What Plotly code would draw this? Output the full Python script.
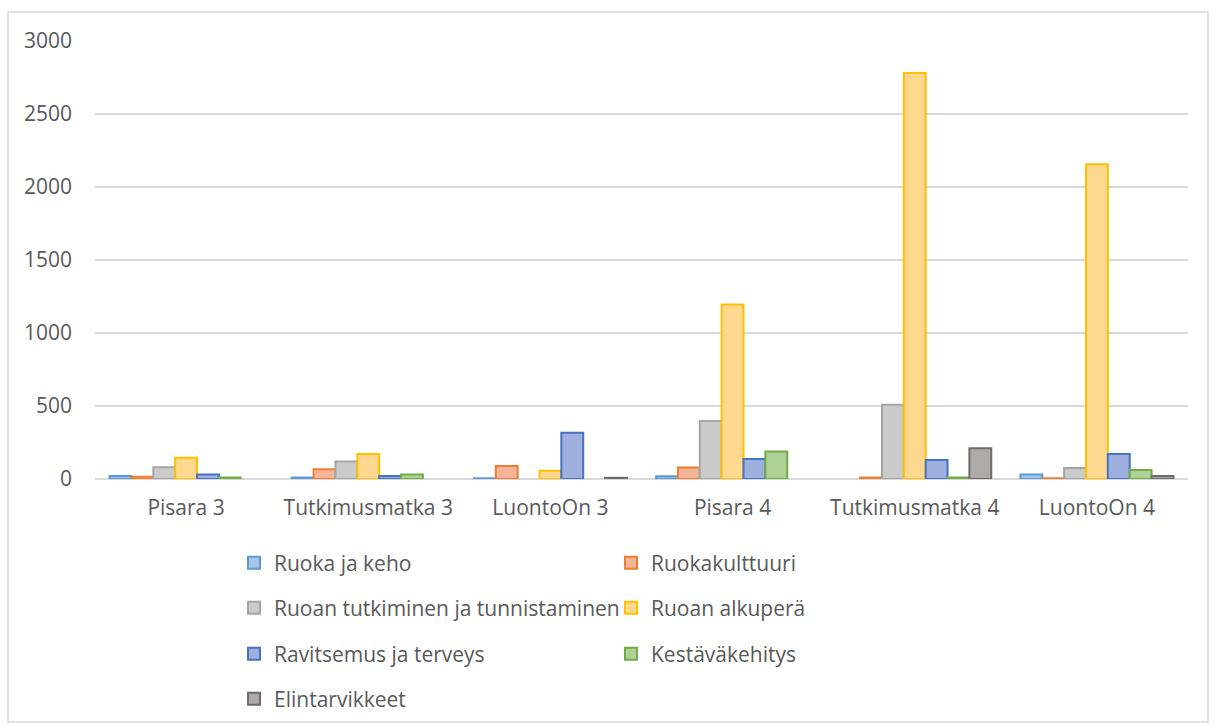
import plotly.graph_objects as go

categories = ["Pisara 3", "Tutkimusmatka 3", "LuontoOn 3", "Pisara 4", "Tutkimusmatka 4", "LuontoOn 4"]
series_names = ["Ruoka ja keho", "Ruokakulttuuri", "Ruoan tutkiminen ja tunnistaminen",
                "Ruoan alkuperä", "Ravitsemus ja terveys", "Kestäväkehitys", "Elintarvikkeet"]
ruoka_ja_keho = [20, 10, 5, 18, 0, 31]
ruokakulttuuri = [15, 66, 89, 79, 10, 5]
ruoan_tutkiminen = [80, 120, 0, 397, 509, 75]
ruoan_alkupera = [146, 171, 57, 1195, 2780, 2155]
ravitsemus = [30, 20, 317, 137, 130, 171]
kestavakehitys = [10, 31, 0, 189, 10, 62]
elintarvikkeet = [0, 0, 8, 0, 210, 20]
y_ticks = [0, 500, 1000, 1500, 2000, 2500, 3000]

values = [ruoka_ja_keho, ruokakulttuuri, ruoan_tutkiminen, ruoan_alkupera,
          ravitsemus, kestavakehitys, elintarvikkeet]
fills = ["#A4C6E8", "#F6B499", "#CBCBCB", "#FFD88F", "#A0B0DE", "#ADD196", "#AEAAA9"]
lines = ["#5B9BD5", "#ED7D31", "#A5A5A5", "#FFC000", "#4472C4", "#70AD47", "#6F6B6A"]

# legend rows (2 per row)
legend_ids = ["legend", "legend", "legend2", "legend2", "legend3", "legend3", "legend4"]

fig = go.Figure()
for name, vals, fc, lc, lg in zip(series_names, values, fills, lines, legend_ids):
    fig.add_trace(go.Bar(
        x=categories, y=[v if v != 0 else None for v in vals], name=name,
        marker=dict(color=fc, line=dict(color=lc, width=2)),
        legend=lg,
    ))

W, H = 1216, 727
L, R, T, B = 95, 1188, 41, 479
def px_x(x):
    return (x - L) / (R - L)
def px_y(y):
    return (B - y) / (B - T)

font_family = "'Open Sans', Lato, sans-serif"
fsize = 21
leg_common = dict(orientation="h", entrywidth=332, entrywidthmode="pixels",
                  font=dict(family=font_family, size=fsize, color="#595959"),
                  xanchor="left", yanchor="middle", bgcolor="rgba(0,0,0,0)",
                  itemclick=False, itemdoubleclick=False)
row_y = [563, 608, 654, 699]
lx = px_x(234)

fig.update_layout(
    width=W, height=H,
    margin=dict(l=L, r=W - R, t=T, b=H - B, autoexpand=False),
    paper_bgcolor="white", plot_bgcolor="white",
    barmode="group", bargap=0.16, bargroupgap=0.0,
    font=dict(family=font_family, size=fsize, color="#595959"),
    legend=dict(x=lx, y=px_y(row_y[0]), **leg_common),
    legend2=dict(x=lx, y=px_y(row_y[1]), **leg_common),
    legend3=dict(x=lx, y=px_y(row_y[2]), **leg_common),
    legend4=dict(x=lx, y=px_y(row_y[3]), **leg_common),
    xaxis=dict(showgrid=False, showline=False, ticks="", ticklabelstandoff=14,
               automargin=False,
               tickfont=dict(family=font_family, size=fsize, color="#595959")),
    yaxis=dict(range=[0, 3000], tickvals=y_ticks, showgrid=True, gridcolor="#D9D9D9",
               gridwidth=1.5, zeroline=True, zerolinecolor="#D9D9D9", zerolinewidth=1.5,
               showline=False, ticks="", ticklabelstandoff=22, automargin=False,
               tickfont=dict(family=font_family, size=fsize, color="#595959")),
    shapes=[dict(type="rect", xref="paper", yref="paper",
                 x0=px_x(8), x1=px_x(1208), y0=px_y(722), y1=px_y(12),
                 line=dict(color="#D9D9D9", width=1.5), fillcolor="rgba(0,0,0,0)",
                 layer="below")],
)

fig.write_html("out.html")
